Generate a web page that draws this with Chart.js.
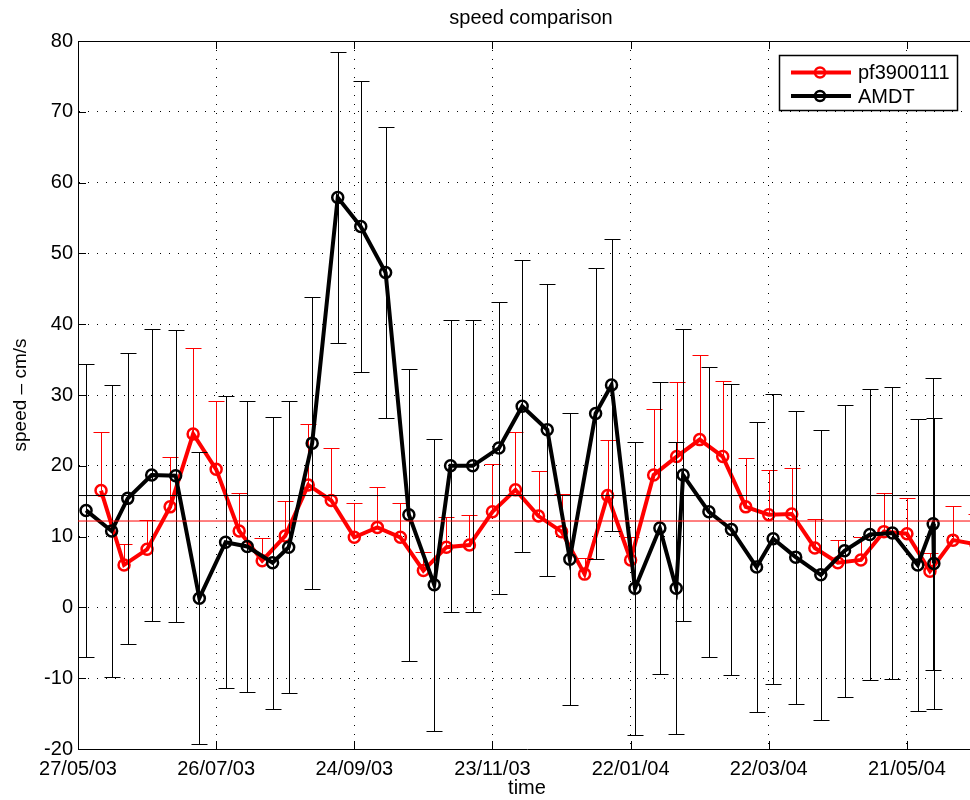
<!DOCTYPE html>
<html>
<head>
<meta charset="utf-8">
<script src="https://cdn.jsdelivr.net/npm/chart.js@4.4.0/dist/chart.umd.min.js"></script>
<style>
  html, body { margin: 0; padding: 0; background: #fff; overflow: hidden; }
  #wrap { position: relative; width: 984px; height: 800px; }
</style>
</head>
<body>
<div id="wrap"><canvas id="chart"></canvas></div>
<script>
// days since 27/05/03
const tickDays = [0, 60, 120, 180, 240, 300, 360];
const tickLabels = ['27/05/03', '26/07/03', '24/09/03', '23/11/03', '22/01/04', '22/03/04', '21/05/04'];
const xMax = 390;

const pfDays = [10, 20, 30, 40, 50, 60, 70, 80, 90, 100, 110, 120, 130, 140, 150, 160, 170, 180, 190, 200,
  210, 220, 230, 240, 250, 260, 270, 280, 290, 300, 310, 320, 330, 340, 350, 360, 370, 380, 390];
const pfSpeed = [16.5, 6.0, 8.2, 14.2, 24.5, 19.5, 10.8, 6.6, 10.1, 17.3, 15.1, 9.9, 11.3, 9.9, 5.2, 8.5, 8.8, 13.5, 16.6, 12.9,
  10.7, 4.7, 15.8, 6.7, 18.7, 21.3, 23.7, 21.3, 14.2, 13.1, 13.2, 8.4, 6.3, 6.7, 10.7, 10.4, 5.1, 9.5, 8.9];
const pfErr = [8.3, 2.9, 4.1, 7.0, 12.2, 9.7, 5.3, 3.2, 4.9, 8.6, 7.4, 4.8, 5.7, 4.9, 2.6, 4.2, 4.3, 6.8, 8.2, 6.4,
  5.3, 2.3, 7.8, 3.2, 9.3, 10.5, 11.9, 10.7, 6.9, 6.3, 6.5, 4.1, 3.2, 3.3, 5.5, 5.1, 2.6, 4.8, 4.3];

const amdtDays = [3.5, 14.6, 21.6, 32.0, 42.4, 52.7, 64.1, 73.5, 84.5, 91.5, 101.7, 112.8, 122.8, 133.6, 143.7, 154.7, 161.8, 171.4, 182.8, 192.9,
  203.8, 213.6, 224.8, 231.7, 241.9, 252.7, 259.8, 262.8, 274.0, 283.8, 294.7, 301.9, 311.7, 322.6, 332.9, 343.9, 353.7, 364.7, 371.4, 371.7];
const amdtSpeed = [13.7, 10.8, 15.4, 18.7, 18.6, 1.3, 9.2, 8.6, 6.3, 8.5, 23.2, 57.9, 53.8, 47.3, 13.1, 3.2, 20.0, 20.0, 22.5, 28.4,
  25.1, 6.8, 27.4, 31.4, 2.7, 11.2, 2.7, 18.7, 13.5, 11.0, 5.7, 9.7, 7.1, 4.6, 8.0, 10.3, 10.5, 6.0, 11.8, 6.2];
const amdtErr = [20.7, 20.6, 20.6, 20.6, 20.6, 20.6, 20.6, 20.6, 20.6, 20.6, 20.6, 20.6, 20.5, 20.6, 20.6, 20.6, 20.6, 20.6, 20.6, 20.6,
  20.6, 20.6, 20.6, 20.6, 20.7, 20.6, 20.6, 20.6, 20.5, 20.6, 20.5, 20.5, 20.7, 20.5, 20.6, 20.6, 20.6, 20.6, 20.6, 20.6];

const pfMean = 12.2;
const amdtMean = 15.8;

const FONT = "'Liberation Sans', Arial, Helvetica, sans-serif";
Chart.defaults.font.family = FONT;
Chart.defaults.color = '#000';

const pts = (xs, ys) => xs.map((x, i) => ({ x, y: ys[i] }));

// vertical error bars, drawn just under each series line
const errorBars = {
  id: 'errorBars',
  beforeDatasetDraw(chart, args) {
    const ds = chart.data.datasets[args.index];
    if (!ds.errUp) return;
    const { ctx, chartArea: a, scales: { x, y } } = chart;
    ctx.save();
    ctx.beginPath();
    ctx.rect(a.left, a.top, a.right - a.left, a.bottom - a.top);
    ctx.clip();
    ctx.strokeStyle = ds.borderColor;
    ctx.lineWidth = 1;
    ds.data.forEach((p, i) => {
      const px = Math.round(x.getPixelForValue(p.x)) + 0.5;
      const hi = Math.round(y.getPixelForValue(p.y + ds.errUp[i])) + 0.5;
      const lo = ds.errDown ? Math.round(y.getPixelForValue(p.y - ds.errDown[i])) + 0.5 : y.getPixelForValue(p.y);
      ctx.beginPath();
      ctx.moveTo(px, lo);
      ctx.lineTo(px, hi);
      ctx.moveTo(px - 8, hi);
      ctx.lineTo(px + 8, hi);
      if (ds.errDown) {
        ctx.moveTo(px - 8, lo);
        ctx.lineTo(px + 8, lo);
      }
      ctx.stroke();
    });
    ctx.restore();
  }
};

// title over the plot box, top border, inward ticks, legend box
const frame = {
  id: 'frame',
  beforeDatasetsDraw(chart) {
    const { ctx, chartArea: a, scales: { x, y } } = chart;
    ctx.save();
    ctx.fillStyle = '#000';
    ctx.font = '20px ' + FONT;
    ctx.textAlign = 'center';
    ctx.textBaseline = 'middle';
    ctx.fillText('speed comparison', (a.left + a.right) / 2 + 4, 18);

    ctx.strokeStyle = '#000';
    ctx.lineWidth = 1;
    ctx.beginPath();
    ctx.moveTo(a.left, a.top + 0.5);
    ctx.lineTo(a.right, a.top + 0.5);
    x.ticks.forEach(t => {
      const px = Math.round(x.getPixelForValue(t.value)) + 0.5;
      ctx.moveTo(px, a.bottom);
      ctx.lineTo(px, a.bottom - 8);
      ctx.moveTo(px, a.top);
      ctx.lineTo(px, a.top + 8);
    });
    y.ticks.forEach(t => {
      const py = Math.round(y.getPixelForValue(t.value)) + 0.5;
      ctx.moveTo(a.left, py);
      ctx.lineTo(a.left + 8, py);
    });
    ctx.stroke();
    ctx.restore();
  },
  afterDraw(chart) {
    const ctx = chart.ctx;
    const items = chart.data.datasets.filter(d => d.errUp);
    ctx.save();
    ctx.fillStyle = '#fff';
    ctx.fillRect(779, 55, 179, 56);
    ctx.strokeStyle = '#000';
    ctx.lineWidth = 1.5;
    ctx.strokeRect(779.5, 55.5, 178, 55);
    ctx.font = '20px ' + FONT;
    ctx.textBaseline = 'middle';
    items.forEach((d, i) => {
      const cy = 72.5 + i * 23.5;
      ctx.strokeStyle = d.borderColor;
      ctx.lineWidth = 4;
      ctx.beginPath();
      ctx.moveTo(791, cy);
      ctx.lineTo(851, cy);
      ctx.stroke();
      ctx.lineWidth = 2.5;
      ctx.beginPath();
      ctx.arc(820, cy, 5, 0, Math.PI * 2);
      ctx.stroke();
      ctx.fillStyle = '#000';
      ctx.fillText(d.label, 858, cy + 1);
    });
    ctx.restore();
  }
};

const seriesStyle = color => ({
  borderColor: color,
  borderWidth: 4,
  pointRadius: 5.5,
  pointBorderWidth: 2.5,
  pointBorderColor: color,
  pointBackgroundColor: 'rgba(0,0,0,0)',
  tension: 0
});

new Chart(document.getElementById('chart'), {
  type: 'line',
  data: {
    datasets: [
      { label: 'pf3900111', data: pts(pfDays, pfSpeed), errUp: pfErr, order: 3, ...seriesStyle('#ff0000') },
      { label: 'AMDT', data: pts(amdtDays, amdtSpeed), errUp: amdtErr, errDown: amdtErr, order: 2, ...seriesStyle('#000000') },
      { label: 'pf mean', data: pts([0, xMax], [pfMean, pfMean]), borderColor: '#ff0000', borderWidth: 1, pointRadius: 0, order: 1 },
      { label: 'AMDT mean', data: pts([0, xMax], [amdtMean, amdtMean]), borderColor: '#000000', borderWidth: 1, pointRadius: 0, order: 0 }
    ]
  },
  options: {
    responsive: true,
    maintainAspectRatio: false,
    animation: false,
    events: [],
    layout: { padding: { top: 41, right: 0, bottom: 0, left: 0 } },
    plugins: {
      legend: { display: false },
      tooltip: { enabled: false },
      title: { display: false }
    },
    scales: {
      x: {
        type: 'linear',
        min: 0,
        max: xMax,
        afterBuildTicks: s => { s.ticks = tickDays.map(v => ({ value: v })); },
        afterFit: s => { s.height = 51; },
        ticks: {
          autoSkip: false,
          maxRotation: 0,
          padding: 8,
          font: { size: 20 },
          color: '#000',
          callback: (v, i) => tickLabels[i]
        },
        grid: { color: '#000', lineWidth: 1, drawTicks: false },
        border: { display: true, color: '#000', width: 1, dash: [1, 8] },
        title: { display: true, text: 'time', color: '#000', font: { size: 20 }, padding: { top: 0, bottom: 0 } }
      },
      y: {
        min: -20,
        max: 80,
        afterFit: s => { s.width = 78; },
        ticks: { stepSize: 10, padding: 5, font: { size: 20 }, color: '#000' },
        grid: { color: '#000', lineWidth: 1, drawTicks: false },
        border: { display: true, color: '#000', width: 1, dash: [1, 8] },
        title: { display: true, text: 'speed – cm/s', color: '#000', font: { size: 19 }, padding: { top: 9, bottom: 0 } }
      }
    }
  },
  plugins: [errorBars, frame]
});
</script>
</body>
</html>
